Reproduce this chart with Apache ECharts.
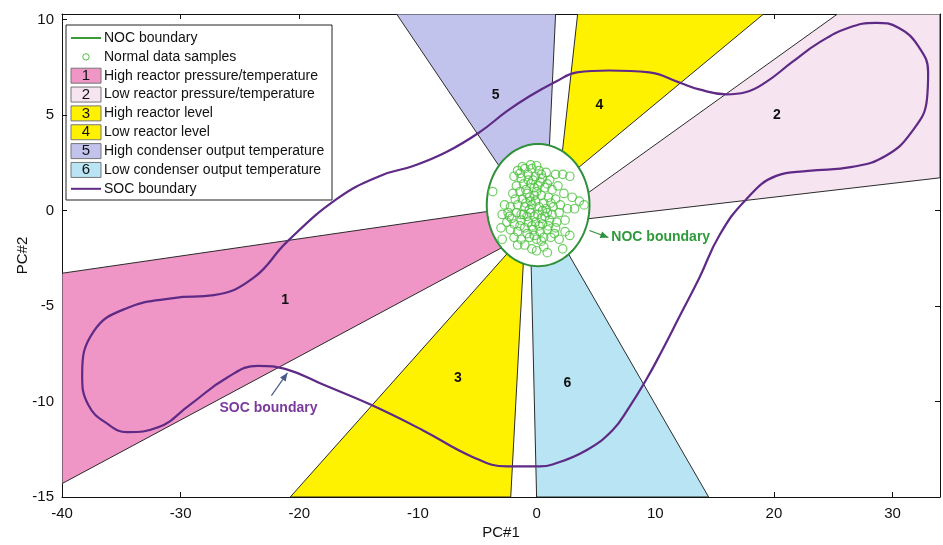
<!DOCTYPE html>
<html><head><meta charset="utf-8">
<script src="https://cdn.jsdelivr.net/npm/echarts@6/dist/echarts.min.js"></script>
<style>html,body{margin:0;padding:0;background:#fff}#c{width:943px;height:545px}</style>
</head><body><div id="c"></div>
<script>
// ---------- data ----------
const region1 = [[-40,-3.28],[-2,0.15],[-2,-1.63],[-40,-14.3]];
const region2 = [[2.5,0.11],[25.36,10.3],[34,10.3],[34,1.72],[2.5,-0.56]];
const region3 = [[-20.76,-15],[-2.18,-15],[-1.01,-1.5],[-1.5,-1.57]];
const region4 = [[1.89,1.5],[3.46,10.3],[19.13,10.3],[3.0,1.98]];
const region5 = [[-11.8,10.3],[1.6,10.3],[0.94,1.5],[-2,1.27]];
const region6 = [[0,-15],[14.5,-15],[2.0,-1.53],[-0.51,-1.5]];
const regionNames = ['1','2','3','4','5','6'];
const regionLabelAt = [[-21.2,-4.69],[20.25,5.0],[-6.64,-8.8],[5.3,5.52],[-3.45,6.04],[2.6,-9.06]];

const socBoundary = [
 [0.25,-13.4],[1.34,-13.3],[4.2,-12.55],[6.4,-11.5],[7.8,-10.3],[9.2,-8.9],[10.6,-7.3],[12.0,-5.6],
 [13.7,-3.54],[15.4,-1.3],[17.6,0.55],[20.2,1.82],[22.9,2.08],[26.6,2.29],[29.4,2.86],[31.6,4.11],
 [32.9,5.83],[33.0,7.24],[32.2,8.59],[30.5,9.58],[28.6,9.84],[26.3,9.58],[23.8,8.8],[21.5,7.76],
 [19.3,6.72],[17.6,6.2],[16.0,6.09],[13.7,6.35],[12.0,6.72],[9.5,7.24],[6.1,7.34],[3.4,7.24],
 [1.6,6.75],[-0.6,5.99],[-2.5,5.21],[-4.8,4.11],[-7.6,3.07],[-10.4,2.34],[-13.2,1.82],[-16.8,0.63],
 [-21.0,-1.61],[-23.9,-3.54],[-27.2,-4.43],[-30.6,-4.58],[-34.5,-5.1],[-37.3,-6.3],[-38.3,-8.59],
 [-37.8,-10.16],[-36.1,-11.2],[-34.5,-11.6],[-31.9,-11.35],[-29.2,-10.16],[-26.1,-8.75],[-23.5,-8.13],
 [-21.0,-8.33],[-18.0,-9.11],[-14.0,-10.16],[-9.6,-11.5],[-5.4,-12.9],[-2.5,-13.4],[0.25,-13.4]
];

const nocCenter = [0.13, 0.29];
const nocRadii = [4.33, 3.2];

const normalSamples = [
 [-1.6,2.1],[-1.0,2.2],[-0.4,2.2],[0.2,2.1],[0.8,2.0],[-1.9,1.8],[-1.3,1.7],[-0.7,1.9],[-0.1,1.8],[0.5,1.7],
 [1.1,1.6],[1.6,1.9],[2.2,1.9],[2.8,1.8],[-1.7,1.3],[-1.1,1.4],[-0.5,1.4],[0.1,1.3],[0.7,1.2],[1.3,1.1],
 [1.8,1.3],[-2.0,0.9],[-1.4,1.0],[-0.8,0.9],[-0.2,0.8],[0.4,0.8],[1.0,0.7],[1.6,0.6],[-1.2,0.6],[-0.5,0.5],
 [2.3,0.9],[3.0,0.7],[-3.7,1.0],[3.6,0.5],[4.0,0.3],[3.2,0.1],
 [-2.7,0.3],[-2.2,0.2],[-1.6,0.3],[-1.0,0.2],[-0.4,0.3],[0.2,0.2],[0.8,0.1],[1.4,0.2],[2.0,0.3],[2.6,0.1],
 [-2.9,-0.2],[-2.3,-0.3],[-1.7,-0.1],[-1.1,-0.2],[-0.5,-0.1],[0.1,-0.2],[0.7,-0.3],[1.3,-0.2],[1.9,-0.1],
 [-2.5,-0.6],[-1.9,-0.7],[-1.3,-0.5],[-0.7,-0.6],[-0.1,-0.6],[0.5,-0.7],[1.1,-0.5],[1.7,-0.6],[2.4,-0.5],
 [-3.0,-0.9],[-2.2,-1.0],[-1.6,-1.1],[-1.0,-0.9],[-0.3,-1.0],[0.3,-1.1],[0.9,-1.0],[1.5,-1.2],
 [-2.9,-1.5],[-1.9,-1.4],[-1.3,-1.5],[-0.6,-1.4],[0.0,-1.5],[0.6,-1.4],[1.9,-1.5],[2.8,-1.3],[2.4,-1.1],
 [-1.0,-1.8],[0.0,-2.1],[0.6,-1.9],[2.2,-2.0],[-0.4,-2.0],
 [-0.9,1.1],[-0.3,1.6],[0.3,1.5],[0.0,1.0],[-0.6,0.7],[0.6,0.4],[-0.2,-0.3],[0.4,-0.4],[-0.8,-0.3],
 [1.0,-0.8],[-1.4,-0.8],[-0.4,-0.8],[0.2,-0.8],[1.2,0.4],[-1.8,0.6],[-2.4,-0.1],
 [-0.7,1.6],[-0.2,1.2],[0.4,1.9],[-1.4,1.95],[0.9,1.4],[-0.9,0.4],[-0.1,0.5],[0.5,0.0],[-0.6,0.05],
 [-1.3,-0.2],[0.9,-0.1],[-0.2,-1.3],[0.4,-1.6],[-0.8,-1.2],[1.2,-1.4],[-1.6,-1.8],[0.9,-2.2],[-2.1,-0.4],
 [1.6,-0.9],[-0.5,2.4],[0.0,2.35],[-1.2,2.3]
];

const legendLabels = ['NOC boundary','Normal data samples','High reactor pressure/temperature',
 'Low reactor pressure/temperature','High reactor level','Low reactor level',
 'High condenser output temperature','Low condenser output temperature','SOC boundary'];

const xLabel = 'PC#1', yLabel = 'PC#2';
const nocNote = 'NOC boundary', socNote = 'SOC boundary';

// ---------- styling / layout ----------
const regions = [region1, region2, region3, region4, region5, region6];
const regionColors = ['#ef96c6','#f6e5f1','#fff200','#fff200','#c2c3ec','#b8e4f3'];
const SOC_COLOR = '#5e2a86';
const NOC_COLOR = '#2f8f3a';
const PT_COLOR = '#4cc23e';
const FONT = '"Liberation Sans", Arial, sans-serif';
const nocArrow = {from:[4.45,-1.04], to:[6.05,-1.41], text:[6.3,-1.41]};
const socArrow = {from:[-22.35,-9.69], to:[-21.0,-8.5], text:[-22.6,-10.35]};

const chart = echarts.init(document.getElementById('c'), null, {renderer:'canvas'});

function arrowHead(p0, p1, len, w, color) {
  const dx = p1[0]-p0[0], dy = p1[1]-p0[1];
  const L = Math.sqrt(dx*dx+dy*dy) || 1;
  const ux = dx/L, uy = dy/L;
  const bx = p1[0]-ux*len, by = p1[1]-uy*len;
  return {type:'polygon', shape:{points:[[p1[0],p1[1]],[bx-uy*w,by+ux*w],[bx+uy*w,by-ux*w]]}, style:{fill:color}};
}

const legendRowY = legendLabels.map((_, i) => 38 + i*18.85);
const legendIcons = [];
legendLabels.forEach((t, i) => {
  const y = legendRowY[i];
  if (i === 0 || i === 8) {
    legendIcons.push({type:'line', shape:{x1:71,y1:y,x2:101,y2:y}, style:{stroke: i===0?'#3a9a3a':SOC_COLOR, lineWidth:2}});
  } else if (i === 1) {
    legendIcons.push({type:'circle', shape:{cx:86,cy:y,r:3.2}, style:{fill:'none', stroke:PT_COLOR, lineWidth:1}});
  } else {
    legendIcons.push({type:'rect', shape:{x:71,y:y-7.5,width:30,height:15}, style:{fill:regionColors[i-2], stroke:'#777', lineWidth:1}});
    legendIcons.push({type:'text', x:86, y:y, style:{text:regionNames[i-2], font:'15px '+FONT, fill:'#111', align:'center', verticalAlign:'middle'}});
  }
  legendIcons.push({type:'text', x:104, y:y, style:{text:t, font:'14px '+FONT, fill:'#111', align:'left', verticalAlign:'middle'}});
});

const axisCommon = {
  axisLine:{onZero:false, lineStyle:{color:'#111', width:1}},
  axisTick:{inside:true, length:5, lineStyle:{color:'#111'}},
  splitLine:{show:false}
};

chart.setOption({
  animation:false,
  backgroundColor:'#fff',
  grid:{left:62, right:2, top:14, bottom:47, containLabel:false},
  xAxis:[
    Object.assign({type:'value', min:-40, max:34, interval:10, position:'bottom',
      axisLabel:{fontSize:15, color:'#111', fontFamily:FONT, margin:9, formatter:v => (v % 10 === 0 ? String(v) : '')},
      name:xLabel, nameLocation:'middle', nameGap:28, nameMoveOverlap:false, nameTextStyle:{fontSize:15, color:'#111', fontFamily:FONT}}, axisCommon),
    Object.assign({type:'value', min:-40, max:34, interval:10, position:'top', axisLabel:{show:false}}, axisCommon)
  ],
  yAxis:[
    Object.assign({type:'value', min:-15, max:10.3, interval:5, position:'left',
      axisLabel:{fontSize:15, color:'#111', fontFamily:FONT, margin:8, formatter:v => (v % 5 === 0 ? String(v) : '')},
      name:yLabel, nameLocation:'middle', nameGap:32, nameMoveOverlap:false, nameTextStyle:{fontSize:15, color:'#111', fontFamily:FONT}}, axisCommon),
    Object.assign({type:'value', min:-15, max:10.3, interval:5, position:'right', axisLabel:{show:false}}, axisCommon)
  ],
  series:[
    {
      type:'custom', name:'regions', z:1, clip:true,
      data: regions.map((r, i) => [i]),
      encode:{x:-1, y:-1},
      renderItem:(params, api) => {
        const i = api.value(0);
        const pts = regions[i].map(p => api.coord(p));
        const lp = api.coord(regionLabelAt[i]);
        return {type:'group', children:[
          {type:'polygon', shape:{points:pts}, style:{fill:regionColors[i], stroke:'#2b2b2b', lineWidth:1}},
          {type:'text', x:lp[0], y:lp[1], z2:5, style:{text:regionNames[i], font:'bold 14px '+FONT, fill:'#111', align:'center', verticalAlign:'middle'}}
        ]};
      }
    },
    {
      type:'custom', name:'NOC boundary', z:3, clip:true,
      data:[[nocCenter[0], nocCenter[1]]],
      renderItem:(params, api) => {
        const c = api.coord(nocCenter);
        const rx = Math.abs(api.size([nocRadii[0],0])[0]);
        const ry = Math.abs(api.size([0,nocRadii[1]])[1]);
        const pts = [];
        for (let k = 0; k < 120; k++) {
          const t = k/120*Math.PI*2;
          pts.push([c[0]+rx*Math.cos(t), c[1]+ry*Math.sin(t)]);
        }
        return {type:'polygon', shape:{points:pts}, style:{fill:'#fff', stroke:NOC_COLOR, lineWidth:2}};
      }
    },
    {
      type:'scatter', name:'Normal data samples', z:4, data:normalSamples,
      symbol:'circle', symbolSize:8.5,
      itemStyle:{color:'rgba(0,0,0,0)', borderColor:PT_COLOR, borderWidth:1.2}
    },
    {
      type:'line', name:'SOC boundary', z:5, data:socBoundary, smooth:0.45, showSymbol:false, symbol:'none',
      lineStyle:{color:SOC_COLOR, width:2.2}
    },
    {
      type:'custom', name:'notes', z:6, clip:false,
      data:[[0,0]],
      renderItem:(params, api) => {
        const a0 = api.coord(nocArrow.from), a1 = api.coord(nocArrow.to), at = api.coord(nocArrow.text);
        const b0 = api.coord(socArrow.from), b1 = api.coord(socArrow.to), bt = api.coord(socArrow.text);
        return {type:'group', children:[
          {type:'line', shape:{x1:a0[0],y1:a0[1],x2:a1[0],y2:a1[1]}, style:{stroke:NOC_COLOR, lineWidth:1.2}},
          arrowHead(a0, a1, 8, 3.5, NOC_COLOR),
          {type:'text', x:at[0], y:at[1], style:{text:nocNote, font:'bold 14px '+FONT, fill:'#2f9a3c', align:'left', verticalAlign:'middle'}},
          {type:'line', shape:{x1:b0[0],y1:b0[1],x2:b1[0],y2:b1[1]}, style:{stroke:'#4a5a8a', lineWidth:1.2}},
          arrowHead(b0, b1, 8, 3.5, '#4a5a8a'),
          {type:'text', x:bt[0], y:bt[1], style:{text:socNote, font:'bold 14px '+FONT, fill:'#7a3a9c', align:'center', verticalAlign:'middle'}}
        ]};
      }
    }
  ],
  graphic:[{
    type:'group', z:100,
    children:[{type:'rect', shape:{x:66,y:25,width:266,height:175}, style:{fill:'#fff', stroke:'#222', lineWidth:1}}].concat(legendIcons)
  }]
});
</script>
</body></html>
